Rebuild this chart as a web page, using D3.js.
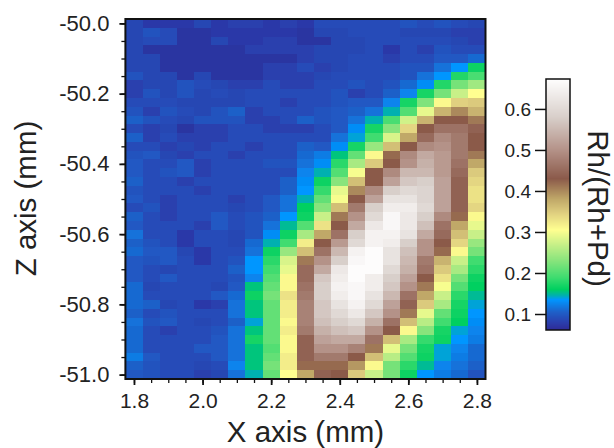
<!DOCTYPE html>
<html>
<head>
<meta charset="utf-8">
<script src="https://cdn.jsdelivr.net/npm/d3@7"></script>
<style>
    html, body { margin: 0; padding: 0; background: #fff; }
    text { font-family: "Liberation Sans", Arial, sans-serif; fill: #222; }
</style>
</head>
<body>
<div id="chart"></div>
<script>
// x positions of the columns (mm)
var xValues = [1.8, 1.85, 1.9, 1.95, 2.0, 2.05, 2.1, 2.15, 2.2, 2.25, 2.3, 2.35, 2.4, 2.45, 2.5, 2.55, 2.6, 2.65, 2.7, 2.75, 2.8];
// z positions of the rows (mm)
var zValues = [-50, -50.025, -50.05, -50.075, -50.1, -50.125, -50.15, -50.175, -50.2, -50.225, -50.25, -50.275, -50.3, -50.325,
    -50.35, -50.375, -50.4, -50.425, -50.45, -50.475, -50.5, -50.525, -50.55, -50.575, -50.6, -50.625, -50.65, -50.675,
    -50.7, -50.725, -50.75, -50.775, -50.8, -50.825, -50.85, -50.875, -50.9, -50.925, -50.95, -50.975, -51];

// Rh/(Rh+Pd), one line per z row
var ratio = [
    [.085,.075,.075,.075,.085,.075,.08,.08,.075,.08,.075,.09,.09,.09,.09,.09,.095,.09,.095,.09,.085],
    [.085,.095,.09,.07,.07,.075,.075,.075,.075,.075,.07,.085,.085,.09,.09,.09,.085,.085,.085,.08,.08],
    [.085,.09,.09,.07,.07,.085,.075,.075,.08,.08,.07,.07,.085,.085,.09,.09,.09,.09,.09,.085,.08],
    [.085,.07,.07,.07,.07,.07,.07,.08,.08,.08,.08,.085,.085,.085,.09,.075,.09,.08,.095,.09,.09],
    [.085,.085,.07,.07,.07,.07,.07,.07,.07,.07,.08,.085,.085,.09,.09,.08,.09,.09,.1,.1,.11],
    [.085,.085,.07,.07,.07,.07,.07,.07,.08,.08,.09,.08,.085,.09,.09,.09,.095,.095,.115,.135,.165],
    [.095,.085,.085,.07,.085,.07,.07,.07,.08,.08,.08,.085,.09,.09,.09,.09,.095,.115,.135,.175,.195],
    [.08,.085,.085,.095,.09,.085,.08,.08,.09,.08,.08,.09,.09,.095,.09,.095,.11,.13,.175,.22,.245],
    [.08,.095,.085,.095,.085,.09,.085,.09,.09,.09,.09,.09,.095,.08,.09,.105,.125,.17,.22,.27,.305],
    [.09,.09,.09,.085,.085,.085,.085,.09,.09,.08,.09,.09,.095,.1,.1,.125,.17,.225,.31,.345,.35],
    [.095,.08,.095,.09,.085,.095,.105,.08,.09,.09,.09,.095,.1,.105,.115,.145,.2,.29,.37,.4,.37],
    [.105,.095,.09,.085,.095,.095,.095,.08,.08,.09,.105,.095,.1,.115,.145,.195,.275,.37,.43,.43,.41],
    [.09,.08,.085,.07,.08,.08,.09,.09,.08,.08,.08,.09,.1,.13,.17,.23,.34,.43,.46,.46,.44],
    [.105,.08,.09,.08,.08,.08,.09,.09,.09,.09,.09,.09,.115,.14,.19,.28,.38,.45,.49,.47,.43],
    [.09,.09,.08,.085,.08,.09,.09,.08,.09,.09,.105,.1,.13,.17,.24,.36,.43,.49,.5,.47,.43],
    [.095,.1,.085,.08,.09,.09,.08,.09,.09,.09,.11,.12,.155,.21,.31,.42,.49,.53,.51,.47,.41],
    [.1,.09,.09,.1,.08,.09,.09,.09,.095,.095,.115,.13,.18,.25,.35,.43,.5,.54,.51,.46,.38],
    [.1,.09,.095,.1,.08,.09,.09,.09,.09,.09,.125,.145,.2,.3,.43,.49,.55,.55,.51,.45,.35],
    [.105,.09,.09,.08,.09,.09,.09,.09,.09,.105,.13,.165,.23,.36,.43,.52,.57,.58,.52,.44,.34],
    [.095,.09,.09,.09,.08,.09,.09,.09,.09,.105,.135,.185,.29,.4,.49,.58,.6,.59,.52,.44,.33],
    [.1,.09,.08,.09,.09,.09,.08,.09,.1,.115,.145,.21,.3,.43,.52,.62,.62,.59,.52,.44,.33],
    [.09,.095,.08,.09,.09,.09,.085,.09,.1,.115,.16,.23,.36,.47,.58,.64,.64,.6,.52,.44,.34],
    [.105,.09,.08,.09,.09,.1,.09,.095,.105,.135,.165,.27,.41,.5,.6,.66,.63,.58,.49,.42,.31],
    [.1,.09,.09,.09,.08,.1,.09,.095,.115,.15,.2,.33,.43,.53,.63,.66,.63,.56,.46,.38,.29],
    [.115,.09,.09,.075,.09,.09,.085,.095,.13,.165,.25,.38,.46,.58,.65,.65,.62,.53,.45,.36,.27],
    [.105,.095,.09,.075,.09,.09,.085,.11,.145,.19,.32,.43,.51,.6,.65,.64,.58,.5,.43,.34,.24],
    [.11,.1,.1,.085,.075,.09,.09,.115,.165,.24,.36,.46,.55,.65,.67,.62,.56,.5,.42,.31,.22],
    [.1,.095,.1,.09,.075,.09,.095,.135,.18,.28,.41,.5,.58,.66,.67,.62,.55,.47,.37,.27,.19],
    [.1,.09,.085,.09,.09,.09,.105,.135,.19,.29,.45,.53,.63,.67,.67,.6,.54,.46,.35,.25,.18],
    [.1,.09,.1,.09,.09,.09,.095,.125,.2,.31,.45,.57,.64,.67,.64,.58,.52,.43,.33,.22,.165],
    [.11,.085,.09,.09,.09,.085,.1,.155,.21,.31,.46,.58,.65,.66,.64,.57,.5,.41,.3,.2,.16],
    [.11,.09,.09,.09,.09,.1,.11,.165,.22,.33,.47,.58,.64,.66,.62,.55,.46,.38,.27,.18,.15],
    [.11,.105,.085,.09,.075,.08,.115,.155,.21,.32,.48,.57,.62,.65,.6,.52,.44,.35,.25,.17,.14],
    [.105,.09,.095,.09,.09,.09,.115,.155,.21,.32,.48,.57,.6,.63,.57,.5,.41,.29,.21,.165,.135],
    [.115,.095,.1,.09,.085,.09,.105,.14,.21,.31,.48,.56,.58,.6,.54,.46,.36,.26,.19,.16,.13],
    [.11,.09,.08,.09,.09,.095,.115,.155,.21,.32,.47,.54,.56,.57,.5,.43,.31,.23,.17,.14,.125],
    [.11,.09,.09,.09,.09,.1,.115,.17,.21,.31,.44,.52,.53,.53,.46,.36,.25,.185,.165,.135,.12],
    [.11,.09,.09,.09,.1,.1,.115,.155,.2,.31,.44,.5,.5,.48,.41,.29,.22,.17,.14,.125,.11],
    [.12,.1,.09,.09,.09,.1,.115,.155,.21,.32,.44,.47,.47,.43,.36,.26,.2,.165,.14,.12,.11],
    [.105,.095,.09,.09,.085,.09,.125,.155,.22,.32,.42,.42,.42,.39,.31,.22,.18,.15,.125,.115,.105],
    [.1,.095,.09,.09,.08,.085,.115,.145,.21,.305,.38,.44,.43,.35,.27,.22,.165,.135,.12,.11,.095]
];

var xTicks = [1.8, 2.0, 2.2, 2.4, 2.6, 2.8];
var zTicks = [-50.0, -50.2, -50.4, -50.6, -50.8, -51.0];
var barTicks = [0.1, 0.2, 0.3, 0.4, 0.5, 0.6];

var colorStops = [0.061, 0.08, 0.105, 0.135, 0.145, 0.16, 0.19, 0.23, 0.27, 0.305, 0.345, 0.38, 0.43, 0.5, 0.58, 0.675];
var colorValues = ["#2e2a96", "#2a3fae", "#1e60c8", "#0096ff", "#00b0b0", "#00d060", "#40dc70", "#88e47c", "#c8f088", "#ffff90",
    "#e0d080", "#c0a868", "#8b5a4a", "#b49288", "#d8cfca", "#ffffff"];

var width = 614, height = 448;
var plot = {left: 125.4, right: 485.5, top: 19, bottom: 379};
var bar = {left: 546, right: 570, top: 79, bottom: 330};

var svg = d3.select("#chart").append("svg")
    .attr("width", width)
    .attr("height", height);

// the reference is a slightly soft scan, so the cells get a small blur
svg.append("filter")
    .attr("id", "soft")
    .append("feGaussianBlur")
    .attr("stdDeviation", 0.6);

var color = d3.scaleLinear().domain(colorStops).range(colorValues).clamp(true);

// half a cell on each side so the cells sit centred on their positions
var x = d3.scaleLinear().domain([1.775, 2.825]).range([plot.left, plot.right]);
var z = d3.scaleLinear().domain([-49.9875, -51.0125]).range([plot.top, plot.bottom]);
var barScale = d3.scaleLinear().domain([0.061, 0.673]).range([bar.bottom, bar.top]);

// heat map cells
svg.append("g")
    .attr("filter", "url(#soft)")
    .selectAll("g")
    .data(ratio)
    .join("g")
    .each(function(row, j) {
        d3.select(this).selectAll("rect")
            .data(row)
            .join("rect")
            .attr("x", function(d, i) { return x(xValues[i] - 0.025); })
            .attr("y", z(zValues[j] + 0.0125))
            .attr("width", x(1.825) - x(1.775))
            .attr("height", z(-50.0125) - z(-49.9875))
            .attr("fill", function(d) { return color(d); })
            .attr("shape-rendering", "crispEdges");
    });

// frame
svg.append("rect")
    .attr("x", plot.left)
    .attr("y", plot.top)
    .attr("width", plot.right - plot.left)
    .attr("height", plot.bottom - plot.top)
    .attr("fill", "none")
    .attr("stroke", "#111")
    .attr("stroke-width", 2);

// minor ticks first, the majors go on top with their labels
function styleAxis(g, strokeWidth, fontSize) {
    g.select(".domain").remove();
    g.selectAll(".tick line").attr("stroke", "#111").attr("stroke-width", strokeWidth);
    g.selectAll(".tick text").attr("font-size", fontSize).style("font-family", null);
}

// plain hyphen in front of negative labels, like the reference
function label(d) {
    return d.toFixed(1);
}

svg.append("g")
    .attr("transform", "translate(0," + plot.bottom + ")")
    .call(d3.axisBottom(x).tickValues(xValues).tickSize(4).tickFormat(""))
    .call(styleAxis, 1.3, 21);
svg.append("g")
    .attr("transform", "translate(0," + plot.bottom + ")")
    .call(d3.axisBottom(x).tickValues(xTicks).tickSize(6).tickPadding(8).tickFormat(label))
    .call(styleAxis, 1.8, 21);

svg.append("g")
    .attr("transform", "translate(" + plot.left + ",0)")
    .call(d3.axisLeft(z).tickValues(zValues.filter(function(d, j) { return j % 2 === 0; })).tickSize(4).tickFormat(""))
    .call(styleAxis, 1.3, 21);
svg.append("g")
    .attr("transform", "translate(" + plot.left + ",0)")
    .call(d3.axisLeft(z).tickValues(zTicks).tickSize(6).tickPadding(10).tickFormat(label))
    .call(styleAxis, 1.8, 22);

// axis titles
svg.append("text")
    .attr("x", 305.5)
    .attr("y", 441.5)
    .attr("text-anchor", "middle")
    .attr("font-size", 29.5)
    .text("X axis (mm)");
svg.append("text")
    .attr("transform", "translate(35.5,198.5) rotate(-90)")
    .attr("text-anchor", "middle")
    .attr("font-size", 29.5)
    .text("Z axis (mm)");

// colour bar, one thin rect per pixel row
svg.append("g").selectAll("rect")
    .data(d3.range(bar.top, bar.bottom))
    .join("rect")
    .attr("x", bar.left)
    .attr("y", function(d) { return d; })
    .attr("width", bar.right - bar.left)
    .attr("height", 1)
    .attr("fill", function(d) { return color(barScale.invert(d + 0.5)); })
    .attr("shape-rendering", "crispEdges");
svg.append("rect")
    .attr("x", bar.left)
    .attr("y", bar.top)
    .attr("width", bar.right - bar.left)
    .attr("height", bar.bottom - bar.top)
    .attr("fill", "none")
    .attr("stroke", "#111")
    .attr("stroke-width", 1.5);
svg.append("g")
    .attr("transform", "translate(" + bar.left + ",0)")
    .call(d3.axisLeft(barScale).tickValues(barTicks).tickSize(11).tickPadding(4).tickFormat(label))
    .call(styleAxis, 1.5, 19);
svg.append("text")
    .attr("transform", "translate(588,208.5) rotate(90)")
    .attr("text-anchor", "middle")
    .attr("font-size", 29.5)
    .text("Rh/(Rh+Pd)");
</script>
</body>
</html>
